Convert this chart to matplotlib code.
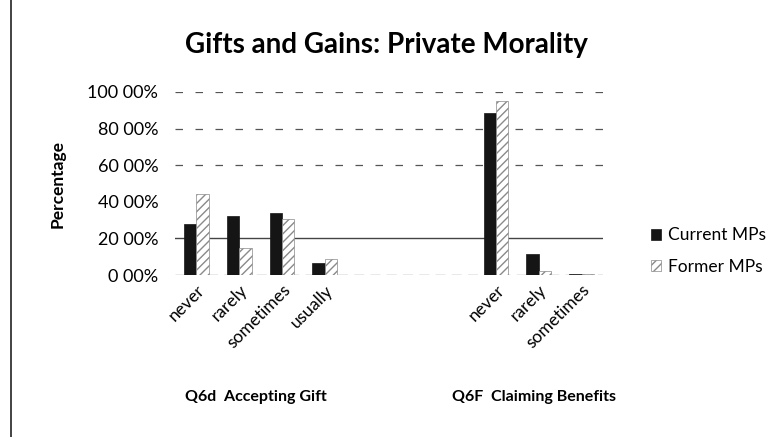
import numpy as np
import matplotlib.pyplot as plt
from matplotlib.lines import Line2D

# category slots (three blank slots between the two questions)
categories = ['never', 'rarely', 'sometimes', 'usually', '', '', '',
              'never', 'rarely', 'sometimes']
current_mps = [28, 32, 34, 6.5, 0, 0, 0, 88.5, 11.5, 0.3]
former_mps = [44, 15, 30.5, 8.5, 0, 0, 0, 95, 2, 0.3]
y_ticks = [0, 20, 40, 60, 80, 100]
y_tick_labels = ['0 00%', '20 00%', '40 00%', '60 00%', '80 00%', '100 00%']
group_labels = ['Q6d  Accepting Gift', 'Q6F  Claiming Benefits']

plt.rcParams['font.family'] = ['Lato', 'DejaVu Sans']

fig = plt.figure(figsize=(7.72, 4.37), dpi=100)
ax = fig.add_axes([175 / 772, 1 - 275 / 437, 428 / 772, 183 / 437])

x = np.arange(len(categories))
w = 0.29
ax.bar(x - w / 2, current_mps, w, color='#151515', edgecolor='#151515',
       linewidth=0.5, zorder=3, label='Current MPs')
ax.bar(x + w / 2, former_mps, w, color='white', edgecolor='#8a8a8a',
       hatch='////', linewidth=0.5, zorder=3, label='Former MPs')

# faded scanned gridlines
ax.axhline(20, color='#444444', linewidth=1.0, zorder=1)
for level in [60, 80, 100]:
    ax.axhline(level, color='#555555', linewidth=0.9,
               linestyle=(0, (6, 10)), zorder=1)
ax.axhline(0, color='#555555', linewidth=0.9, linestyle=(0, (8, 5)), zorder=1)

ax.set_xlim(-0.5, len(categories) - 0.5)
ax.set_ylim(0, 100)
ax.set_yticks(y_ticks)
ax.set_yticklabels(y_tick_labels, fontsize=13)
ax.set_xticks(x)
ax.set_xticklabels(categories, rotation=45, ha='right', rotation_mode='anchor',
                   fontsize=12.5)
ax.tick_params(axis='y', length=0, pad=12)
ax.tick_params(axis='x', length=0, pad=5)
for s in ax.spines.values():
    s.set_visible(False)

ax.set_ylabel('Percentage', fontsize=12.5, fontweight='bold', labelpad=16)

fig.text(0.5, 1 - 45 / 437, 'Gifts and Gains: Private Morality', ha='center',
         va='center', fontsize=20, fontweight='bold')

fig.text(256 / 772, 1 - 397 / 437, group_labels[0], ha='center', va='center',
         fontsize=11.5, fontweight='bold')
fig.text(534 / 772, 1 - 397 / 437, group_labels[1], ha='center', va='center',
         fontsize=11.5, fontweight='bold')

ax.legend(loc='center left', bbox_to_anchor=(1.075, 0.13), frameon=False,
          fontsize=12.5, handlelength=0.6, handleheight=0.6, handletextpad=0.4,
          labelspacing=0.9)

# left edge of the scanned frame
fig.add_artist(Line2D([11 / 772, 11 / 772], [0, 1], color='#222222',
                      linewidth=1.2))

fig.savefig('out.png', dpi=100)
